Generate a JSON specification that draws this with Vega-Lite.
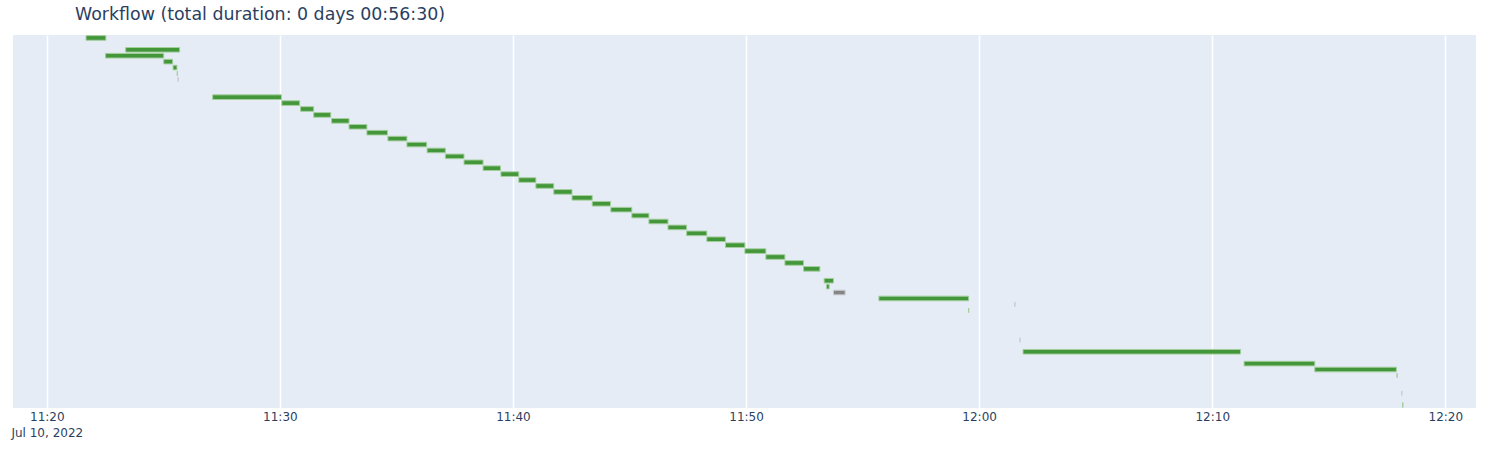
{
  "$schema": "https://vega.github.io/schema/vega-lite/v6.json",
  "width": 1463,
  "height": 373,
  "autosize": {"type": "none"},
  "padding": {"left": 13, "top": 35, "right": 10, "bottom": 42},
  "background": "white",
  "title": {
    "text": "Workflow (total duration: 0 days 00:56:30)",
    "anchor": "start",
    "frame": "group",
    "dx": 62,
    "offset": 12,
    "font": "DejaVu Sans",
    "fontSize": 17.4,
    "fontWeight": "normal",
    "color": "#2a3f5f"
  },
  "data": {
    "values": [
      {"row": 0, "start": "2022-07-10T11:21:41", "end": "2022-07-10T11:22:32", "status": "Succeeded"},
      {"row": 2, "start": "2022-07-10T11:23:23", "end": "2022-07-10T11:25:42", "status": "Succeeded"},
      {"row": 3, "start": "2022-07-10T11:22:31", "end": "2022-07-10T11:25:01", "status": "Succeeded"},
      {"row": 4, "start": "2022-07-10T11:25:01", "end": "2022-07-10T11:25:24", "status": "Succeeded"},
      {"row": 5, "start": "2022-07-10T11:25:25", "end": "2022-07-10T11:25:35", "status": "Succeeded"},
      {"row": 6, "start": "2022-07-10T11:25:36", "end": "2022-07-10T11:25:36", "status": "Succeeded"},
      {"row": 7, "start": "2022-07-10T11:25:38", "end": "2022-07-10T11:25:38", "status": "Omitted"},
      {"row": 10, "start": "2022-07-10T11:27:07", "end": "2022-07-10T11:30:04", "status": "Succeeded"},
      {"row": 11, "start": "2022-07-10T11:30:05", "end": "2022-07-10T11:30:51", "status": "Succeeded"},
      {"row": 12, "start": "2022-07-10T11:30:53", "end": "2022-07-10T11:31:27", "status": "Succeeded"},
      {"row": 13, "start": "2022-07-10T11:31:27", "end": "2022-07-10T11:32:11", "status": "Succeeded"},
      {"row": 14, "start": "2022-07-10T11:32:13", "end": "2022-07-10T11:32:58", "status": "Succeeded"},
      {"row": 15, "start": "2022-07-10T11:32:58", "end": "2022-07-10T11:33:44", "status": "Succeeded"},
      {"row": 16, "start": "2022-07-10T11:33:44", "end": "2022-07-10T11:34:37", "status": "Succeeded"},
      {"row": 17, "start": "2022-07-10T11:34:38", "end": "2022-07-10T11:35:27", "status": "Succeeded"},
      {"row": 18, "start": "2022-07-10T11:35:27", "end": "2022-07-10T11:36:18", "status": "Succeeded"},
      {"row": 19, "start": "2022-07-10T11:36:19", "end": "2022-07-10T11:37:06", "status": "Succeeded"},
      {"row": 20, "start": "2022-07-10T11:37:06", "end": "2022-07-10T11:37:54", "status": "Succeeded"},
      {"row": 21, "start": "2022-07-10T11:37:54", "end": "2022-07-10T11:38:43", "status": "Succeeded"},
      {"row": 22, "start": "2022-07-10T11:38:43", "end": "2022-07-10T11:39:28", "status": "Succeeded"},
      {"row": 23, "start": "2022-07-10T11:39:29", "end": "2022-07-10T11:40:15", "status": "Succeeded"},
      {"row": 24, "start": "2022-07-10T11:40:15", "end": "2022-07-10T11:40:59", "status": "Succeeded"},
      {"row": 25, "start": "2022-07-10T11:40:59", "end": "2022-07-10T11:41:45", "status": "Succeeded"},
      {"row": 26, "start": "2022-07-10T11:41:45", "end": "2022-07-10T11:42:32", "status": "Succeeded"},
      {"row": 27, "start": "2022-07-10T11:42:32", "end": "2022-07-10T11:43:24", "status": "Succeeded"},
      {"row": 28, "start": "2022-07-10T11:43:24", "end": "2022-07-10T11:44:11", "status": "Succeeded"},
      {"row": 29, "start": "2022-07-10T11:44:12", "end": "2022-07-10T11:45:06", "status": "Succeeded"},
      {"row": 30, "start": "2022-07-10T11:45:06", "end": "2022-07-10T11:45:50", "status": "Succeeded"},
      {"row": 31, "start": "2022-07-10T11:45:50", "end": "2022-07-10T11:46:39", "status": "Succeeded"},
      {"row": 32, "start": "2022-07-10T11:46:39", "end": "2022-07-10T11:47:27", "status": "Succeeded"},
      {"row": 33, "start": "2022-07-10T11:47:27", "end": "2022-07-10T11:48:19", "status": "Succeeded"},
      {"row": 34, "start": "2022-07-10T11:48:19", "end": "2022-07-10T11:49:07", "status": "Succeeded"},
      {"row": 35, "start": "2022-07-10T11:49:07", "end": "2022-07-10T11:49:57", "status": "Succeeded"},
      {"row": 36, "start": "2022-07-10T11:49:57", "end": "2022-07-10T11:50:51", "status": "Succeeded"},
      {"row": 37, "start": "2022-07-10T11:50:51", "end": "2022-07-10T11:51:40", "status": "Succeeded"},
      {"row": 38, "start": "2022-07-10T11:51:40", "end": "2022-07-10T11:52:28", "status": "Succeeded"},
      {"row": 39, "start": "2022-07-10T11:52:28", "end": "2022-07-10T11:53:10", "status": "Succeeded"},
      {"row": 41, "start": "2022-07-10T11:53:21", "end": "2022-07-10T11:53:45", "status": "Succeeded"},
      {"row": 42, "start": "2022-07-10T11:53:27", "end": "2022-07-10T11:53:34", "status": "Succeeded"},
      {"row": 43, "start": "2022-07-10T11:53:45", "end": "2022-07-10T11:54:15", "status": "Omitted"},
      {"row": 44, "start": "2022-07-10T11:55:42", "end": "2022-07-10T11:59:33", "status": "Succeeded"},
      {"row": 45, "start": "2022-07-10T12:01:32", "end": "2022-07-10T12:01:32", "status": "Omitted"},
      {"row": 46, "start": "2022-07-10T11:59:33", "end": "2022-07-10T11:59:33", "status": "Succeeded"},
      {"row": 51, "start": "2022-07-10T12:01:45", "end": "2022-07-10T12:01:45", "status": "Omitted"},
      {"row": 53, "start": "2022-07-10T12:01:53", "end": "2022-07-10T12:11:13", "status": "Succeeded"},
      {"row": 55, "start": "2022-07-10T12:11:22", "end": "2022-07-10T12:14:24", "status": "Succeeded"},
      {"row": 56, "start": "2022-07-10T12:14:24", "end": "2022-07-10T12:17:54", "status": "Succeeded"},
      {"row": 57, "start": "2022-07-10T12:17:56", "end": "2022-07-10T12:17:56", "status": "Succeeded"},
      {"row": 60, "start": "2022-07-10T12:18:08", "end": "2022-07-10T12:18:08", "status": "Omitted"},
      {"row": 62, "start": "2022-07-10T12:18:10", "end": "2022-07-10T12:18:11", "status": "Succeeded"}
    ]
  },
  "mark": {"type": "bar", "strokeWidth": 1},
  "encoding": {
    "x": {
      "field": "start",
      "type": "temporal",
      "scale": {"domain": [
        {"year": 2022, "month": 7, "date": 10, "hours": 11, "minutes": 18, "seconds": 33},
        {"year": 2022, "month": 7, "date": 10, "hours": 12, "minutes": 21, "seconds": 19}
      ]},
      "axis": {
        "title": null,
        "values": [
          {"year": 2022, "month": 7, "date": 10, "hours": 11, "minutes": 20},
          {"year": 2022, "month": 7, "date": 10, "hours": 11, "minutes": 30},
          {"year": 2022, "month": 7, "date": 10, "hours": 11, "minutes": 40},
          {"year": 2022, "month": 7, "date": 10, "hours": 11, "minutes": 50},
          {"year": 2022, "month": 7, "date": 10, "hours": 12, "minutes": 0},
          {"year": 2022, "month": 7, "date": 10, "hours": 12, "minutes": 10},
          {"year": 2022, "month": 7, "date": 10, "hours": 12, "minutes": 20}
        ],
        "format": "%H:%M",
        "labelExpr": "datum.index == 0 ? [datum.label, 'Jul 10, 2022'] : datum.label",
        "labelLineHeight": 16,
        "grid": true,
        "gridColor": "white",
        "gridWidth": 1.5,
        "ticks": false,
        "domain": false,
        "labelPadding": 3,
        "labelFont": "DejaVu Sans",
        "labelFontSize": 12,
        "labelColor": "#2a3f5f",
        "labelFlush": false
      }
    },
    "x2": {"field": "end"},
    "y": {
      "field": "row",
      "type": "ordinal",
      "scale": {
        "domain": [0,1,2,3,4,5,6,7,8,9,10,11,12,13,14,15,16,17,18,19,20,21,22,23,24,25,26,27,28,29,30,31,32,33,34,35,36,37,38,39,40,41,42,43,44,45,46,47,48,49,50,51,52,53,54,55,56,57,58,59,60,61,62],
        "paddingInner": 0.22,
        "paddingOuter": 0.11
      },
      "axis": null
    },
    "color": {
      "field": "status",
      "type": "nominal",
      "scale": {"domain": ["Succeeded", "Omitted"], "range": ["#43963a", "#858585"]},
      "legend": null
    },
    "stroke": {
      "field": "status",
      "type": "nominal",
      "scale": {"domain": ["Succeeded", "Omitted"], "range": ["#a4cf9d", "#c9ccd1"]},
      "legend": null
    }
  },
  "config": {
    "view": {"fill": "#E5ECF6", "stroke": null}
  }
}
